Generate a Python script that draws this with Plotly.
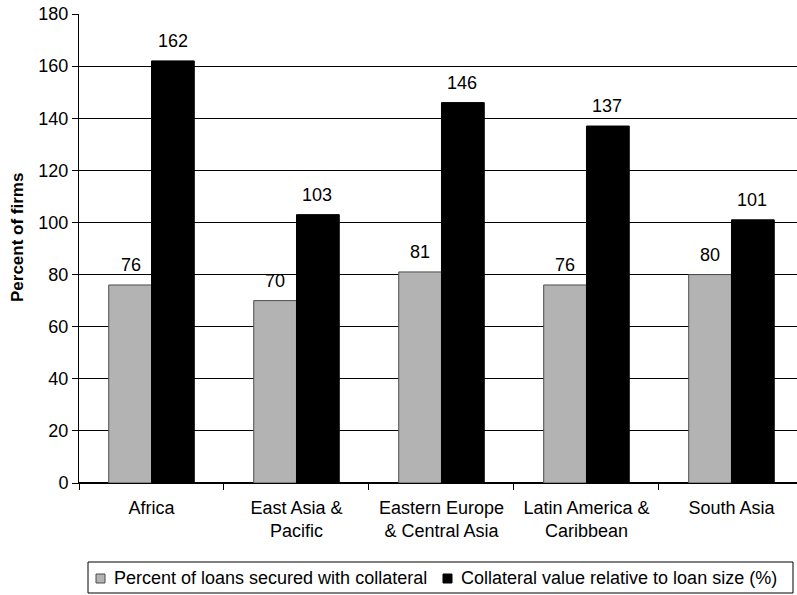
import plotly.graph_objects as go

regions = ["Africa", "East Asia &<br>Pacific", "Eastern Europe<br>& Central Asia",
           "Latin America &<br>Caribbean", "South Asia"]
secured_pct = [76, 70, 81, 76, 80]
collateral_value = [162, 103, 146, 137, 101]
series_names = ["Percent of loans secured with collateral",
                "Collateral value relative to loan size (%)"]
series_colors = ["#b3b3b3", "#000000"]
series_edges = ["#4d4d4d", "#000000"]
y_ticks = list(range(0, 181, 20))
y_title = "Percent of firms"

FONT = "Liberation Sans, Arial, sans-serif"
FS = 18

# plot area in pixels, used to place the boxed legend and axis title
W, H = 797, 595
L, R, T, B = 79, 0, 14, 112
PW, PH = W - L - R, H - T - B


def px_x(px):
    return (px - L) / PW


def px_y(py):
    return (H - B - py) / PH


fig = go.Figure()
for name, vals, col, edge in zip(series_names, (secured_pct, collateral_value),
                                 series_colors, series_edges):
    fig.add_trace(go.Bar(
        x=regions, y=vals, name=name, showlegend=False,
        marker=dict(color=col, line=dict(color=edge, width=1)),
    ))

# value labels above each bar
annotations = []
for offset, values in ((-21, secured_pct), (21, collateral_value)):
    for cat, v in zip(regions, values):
        annotations.append(dict(
            x=cat, y=v, xref="x", yref="y", text=str(v), showarrow=False,
            xshift=offset, yanchor="bottom", yshift=8,
            font=dict(family=FONT, size=FS, color="black"),
        ))

# y-axis title
annotations.append(dict(x=px_x(17), y=px_y(238), xref="paper", yref="paper",
                        text=f"<b>{y_title}</b>", showarrow=False, textangle=-90,
                        xanchor="center", yanchor="middle",
                        font=dict(family=FONT, size=17, color="black")))

# boxed legend
shapes = [dict(type="rect", xref="paper", yref="paper",
               x0=px_x(88), x1=px_x(793), y0=px_y(593), y1=px_y(562),
               line=dict(color="black", width=1), fillcolor="white")]
legend_items = [(96, 112), (443, 459)]
for (sx, tx), name, col, edge in zip(legend_items, series_names,
                                     series_colors, series_edges):
    shapes.append(dict(type="rect", xref="paper", yref="paper",
                       x0=px_x(sx), x1=px_x(sx + 9), y0=px_y(583), y1=px_y(574),
                       line=dict(color=edge, width=1), fillcolor=col))
    annotations.append(dict(x=px_x(tx), y=px_y(578), xref="paper", yref="paper",
                            text=name, showarrow=False, xanchor="left",
                            yanchor="middle",
                            font=dict(family=FONT, size=FS, color="black")))

fig.update_layout(
    width=W, height=H,
    margin=dict(l=L, r=R, t=T, b=B, autoexpand=False),
    paper_bgcolor="white", plot_bgcolor="white",
    barmode="group", bargap=0.41, bargroupgap=0,
    font=dict(family=FONT, size=FS, color="black"),
    annotations=annotations, shapes=shapes,
    showlegend=False,
    xaxis=dict(
        type="category", range=[-0.5, 4.452], automargin=False,
        showline=True, linecolor="black", linewidth=1,
        ticks="outside", tickson="boundaries", ticklen=6, tickcolor="black",
        ticklabelstandoff=8,
        showgrid=False,
    ),
    yaxis=dict(
        range=[0, 180], tickvals=y_ticks, automargin=False,
        showline=True, linecolor="black", linewidth=1,
        ticks="outside", ticklen=6, tickcolor="black",
        showgrid=True, gridcolor="black", gridwidth=1,
        zeroline=True, zerolinecolor="black",
    ),
)

fig.write_html("out.html")
